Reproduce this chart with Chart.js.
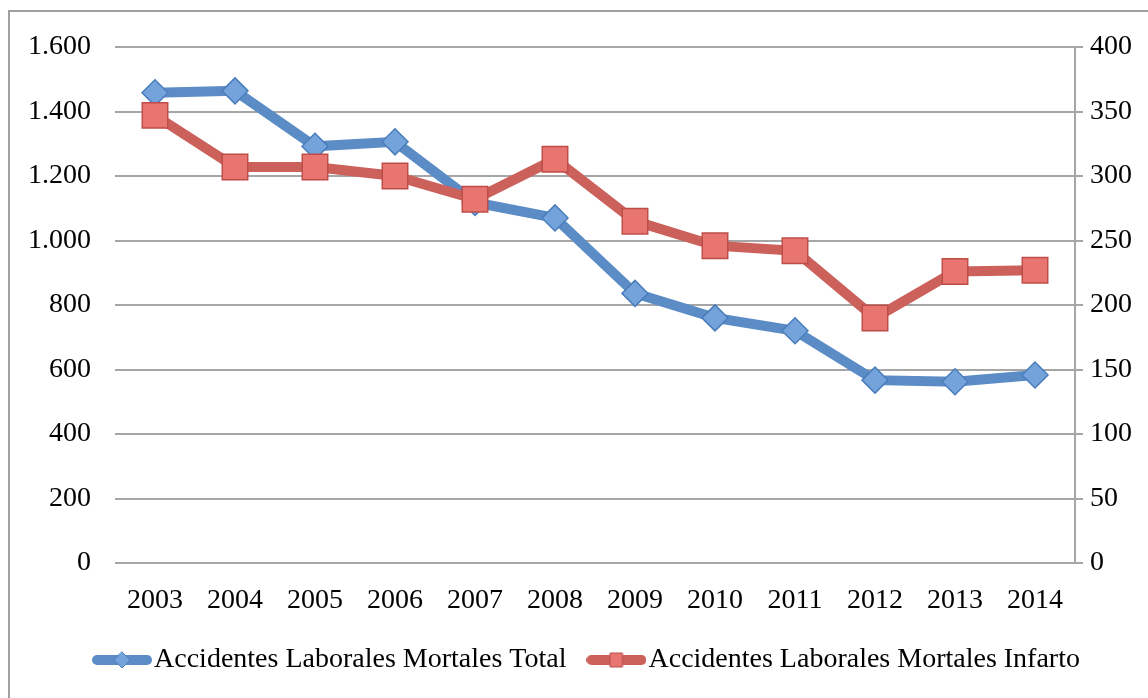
<!DOCTYPE html>
<html>
<head>
<meta charset="utf-8">
<script src="https://cdn.jsdelivr.net/npm/chart.js@4/dist/chart.umd.min.js"></script>
<style>
    html, body { margin: 0; padding: 0; background: #fff; }
</style>
</head>
<body>
<canvas id="accidentsChart" width="1148" height="698"></canvas>
<script>
const years = ["2003", "2004", "2005", "2006", "2007", "2008", "2009", "2010", "2011", "2012", "2013", "2014"];
const totalDeaths = [1458, 1464, 1292, 1306, 1118, 1070, 836, 760, 720, 567, 562, 583];
const heartAttackDeaths = [347, 307, 307, 300, 282, 313, 265, 246, 242, 190, 226, 227];
const seriesNames = ["Accidentes Laborales Mortales Total", "Accidentes Laborales Mortales Infarto"];

const FONT = { family: "'Liberation Serif', 'DejaVu Serif', serif", size: 28 };
const GRID = "#a6a6a6";

// thousands with a dot, like the original (1.600)
function dotThousands(v) {
    return String(v).replace(/\B(?=(\d{3})+(?!\d))/g, ".");
}

// little legend picture: thick line with the marker in the middle
function legendIcon(lineColor, fill, stroke, shape) {
    let c = document.createElement("canvas");
    c.width = 60;
    c.height = 24;
    let g = c.getContext("2d");
    g.lineCap = "round";
    g.lineWidth = 10;
    g.strokeStyle = lineColor;
    g.beginPath();
    g.moveTo(5, 12);
    g.lineTo(55, 12);
    g.stroke();
    g.fillStyle = fill;
    g.strokeStyle = stroke;
    g.lineWidth = 1;
    g.beginPath();
    if (shape === "diamond") {
        g.moveTo(30, 4); g.lineTo(38, 12); g.lineTo(30, 20); g.lineTo(22, 12); g.closePath();
    } else {
        g.rect(24, 5, 12, 14);
    }
    g.fill();
    g.stroke();
    return c;
}

const frame = {
    id: "frame",
    afterLayout(chart) {
        // legend sits a bit right of centre in the original
        chart.legend.left += 18;
        chart.legend.right += 18;
    },
    beforeDraw(chart) {
        let ctx = chart.ctx;
        ctx.save();
        ctx.fillStyle = "#fff";
        ctx.fillRect(0, 0, chart.width, chart.height);
        ctx.strokeStyle = "#a0a0a0";
        ctx.lineWidth = 2;
        ctx.strokeRect(9, 11, chart.width + 20, chart.height + 20);
        ctx.restore();
    }
};

const icons = [
    legendIcon("#5b8cc6", "#74a3dc", "#4a7dbb", "diamond"),
    legendIcon("#cc605a", "#e8756f", "#bd4d49", "square")
];

new Chart(document.getElementById("accidentsChart"), {
    type: "line",
    data: {
        labels: years,
        datasets: [
            {
                label: seriesNames[0],
                data: totalDeaths,
                yAxisID: "y",
                borderColor: "#5b8cc6",
                borderWidth: 10,
                pointStyle: "rectRot",
                pointRadius: 13,
                pointBackgroundColor: "#74a3dc",
                pointBorderColor: "#4a7dbb",
                pointBorderWidth: 1.5,
                tension: 0,
                order: 2
            },
            {
                label: seriesNames[1],
                data: heartAttackDeaths,
                yAxisID: "y1",
                borderColor: "#cc605a",
                borderWidth: 10,
                pointStyle: "rect",
                pointRadius: 18,
                pointBackgroundColor: "#e8756f",
                pointBorderColor: "#bd4d49",
                pointBorderWidth: 1.5,
                tension: 0,
                order: 1
            }
        ]
    },
    options: {
        responsive: false,
        animation: false,
        devicePixelRatio: 1,
        layout: { padding: { top: 47, left: 0, right: 0, bottom: 14 } },
        plugins: {
            tooltip: { enabled: false },
            legend: {
                position: "bottom",
                labels: {
                    font: FONT,
                    color: "#000",
                    usePointStyle: true,
                    pointStyleWidth: 36,
                    padding: 32,
                    generateLabels: chart => chart.data.datasets.map((ds, i) => ({
                        text: ds.label,
                        pointStyle: icons[i],
                        fillStyle: ds.borderColor,
                        strokeStyle: ds.borderColor,
                        lineWidth: 0,
                        hidden: false,
                        datasetIndex: i
                    }))
                }
            }
        },
        scales: {
            x: {
                offset: true,
                grid: { display: false, drawTicks: false },
                border: { display: false },
                ticks: { font: FONT, color: "#000", padding: 21, maxRotation: 0 },
                afterFit: scale => { scale.height = 51; }
            },
            y: {
                position: "left",
                min: 0,
                max: 1600,
                ticks: { stepSize: 200, font: FONT, color: "#000", padding: 24, callback: v => dotThousands(v) },
                grid: { color: GRID, lineWidth: 2, drawTicks: false },
                border: { display: false },
                afterFit: scale => { scale.width = 115; }
            },
            y1: {
                position: "right",
                min: 0,
                max: 400,
                ticks: { stepSize: 50, font: FONT, color: "#000", padding: 7 },
                grid: { drawOnChartArea: false, drawTicks: true, tickLength: 8, color: GRID, lineWidth: 2 },
                border: { display: true, color: GRID, width: 2 },
                afterFit: scale => { scale.width = 73; }
            }
        }
    },
    plugins: [frame]
});
</script>
</body>
</html>
